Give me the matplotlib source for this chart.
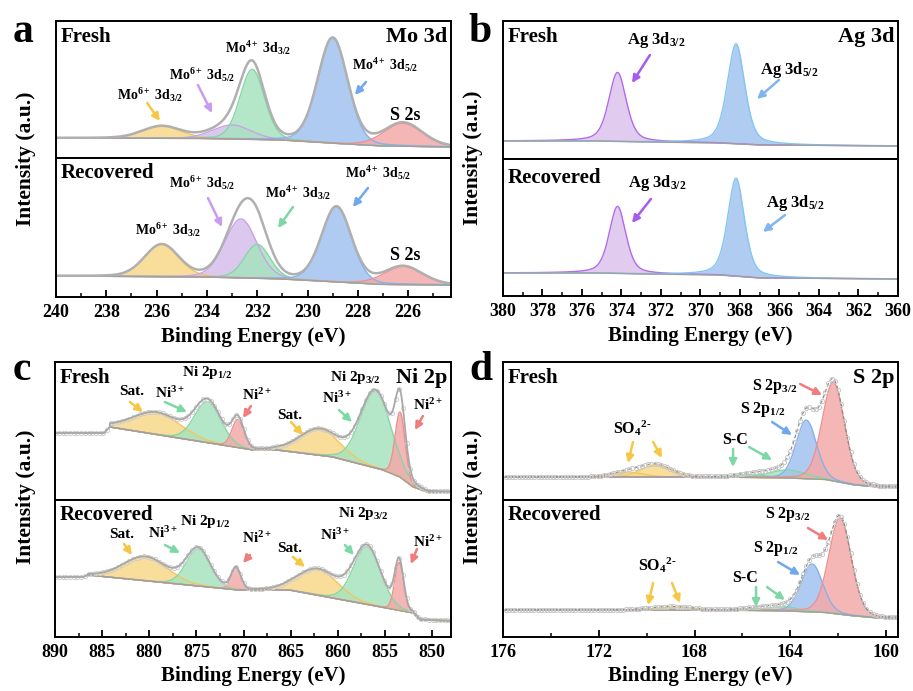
import numpy as np
import matplotlib
matplotlib.use('Agg')
import matplotlib.pyplot as plt
from matplotlib.ticker import MultipleLocator

plt.rcParams['font.family'] = ['Liberation Serif', 'DejaVu Serif']
plt.rcParams['font.weight'] = 'bold'
plt.rcParams['axes.labelweight'] = 'bold'
plt.rcParams['mathtext.fontset'] = 'custom'
plt.rcParams['mathtext.rm'] = 'Liberation Serif:bold'
plt.rcParams['mathtext.it'] = 'Liberation Serif:bold'
plt.rcParams['mathtext.bf'] = 'Liberation Serif:bold'

# ---------------- data (peak centre eV, height, FWHM eV; background nodes) ----------------
# Mo 3d
mo_fresh_center = [235.8, 233.0, 232.2, 229.0, 226.2]
mo_fresh_height = [12, 14, 70, 105, 23]
mo_fresh_fwhm = [1.8, 1.8, 1.15, 1.4, 1.8]
mo_rec_center = [235.8, 232.65, 232.0, 228.85, 226.2]
mo_rec_height = [32, 59, 34, 75, 18]
mo_rec_fwhm = [1.6, 1.5, 1.2, 1.4, 1.8]
mo_bg_energy = [240, 234, 231, 228.5, 227, 224.3]
mo_fresh_bg = [20, 19.5, 18, 14, 12, 11]
mo_rec_bg = [21, 20, 18, 14.5, 12.5, 12]

# Ag 3d
ag_fresh_center = [374.2, 368.2]
ag_fresh_height = [69, 100]
ag_fresh_fwhm = [1.05, 1.05]
ag_rec_center = [374.2, 368.2]
ag_rec_height = [67, 98]
ag_rec_fwhm = [1.0, 1.0]
ag_bg_energy = [380, 375, 373, 369, 367, 360]
ag_fresh_bg = [18, 18, 17, 16, 14, 13]
ag_rec_bg = [23, 23, 22, 21, 18, 17]

# Ni 2p
ni_fresh_center = [879.2, 873.8, 870.6, 861.9, 856.0, 853.4]
ni_fresh_height = [22, 41, 28, 26, 77, 65]
ni_fresh_fwhm = [6.0, 3.3, 1.5, 5.0, 3.8, 1.25]
ni_fresh_bg_energy = [890, 884.8, 884.2, 869.0, 866.4, 860.5, 855.2, 853.4, 852.0, 850.5, 848]
ni_fresh_bg = [67, 67, 73, 50, 50, 43, 30, 23, 13, 8, 8]
ni_fresh_start = 884.2
ni_rec_center = [880.4, 874.8, 870.8, 862.1, 856.9, 853.5]
ni_rec_height = [24, 37, 22, 26, 58, 48]
ni_rec_fwhm = [5.5, 3.0, 1.2, 5.0, 3.4, 1.1]
ni_rec_bg_energy = [890, 887, 886.5, 870.6, 865.1, 852.0, 851.3, 848]
ni_rec_bg = [60, 60, 62, 47, 47, 24, 17, 16]
ni_rec_start = 886.5

# S 2p
s_fresh_center = [170.8, 169.6, 165.6, 164.1, 163.33, 162.2]
s_fresh_height = [5, 12, 3, 8, 58.5, 98.5]
s_fresh_fwhm = [1.5, 1.5, 1.5, 1.8, 1.0, 1.1]
s_rec_center = [169.8, 168.8, 165.5, 164.3, 163.09, 161.92]
s_rec_height = [1, 3, 2, 4, 48, 96]
s_rec_fwhm = [1.5, 1.8, 1.5, 1.6, 1.05, 1.1]
s_bg_energy = [176, 167, 164, 162.5, 161.3, 160.3, 159.5]
s_fresh_bg = [23, 23, 22, 20.5, 15, 13, 13]
s_rec_bg = [27, 27, 26, 24.5, 21, 19, 19]

# ---------------- styles ----------------
FILL = {'y': '#F8D98A', 'p': '#D6BEEB', 'g': '#A6E3BE', 'b': '#A3C2EF', 'r': '#F4A9A9',
        'pb': '#DCC3EE', 'bb': '#A3C3EF'}
EDGE = {'y': '#F0C860', 'p': '#C9A4E8', 'g': '#84D8A6', 'b': '#88B0EC', 'r': '#EF9090',
        'pb': '#B26AEB', 'bb': '#82C6F3'}
ARROW = {'y': '#F6C744', 'p': '#C99CF0', 'g': '#7DD8A5', 'b': '#6FA8EE', 'r': '#F07C7C',
         'pb': '#A75CF0', 'bb': '#80B4F2'}
SO4 = 'SO$_4$$^{2\u2010}$'

W, H = 913, 691
fig = plt.figure(figsize=(W / 100, H / 100), dpi=100)


def make_ax(x0, y0, x1, y1, xlim):
    ax = fig.add_axes([x0 / W, 1 - y1 / H, (x1 - x0) / W, (y1 - y0) / H])
    ax.set_xlim(*xlim)
    ax.set_ylim(0, y1 - y0)
    ax.set_yticks([])
    for s in ax.spines.values():
        s.set_linewidth(1.4)
    return ax


def pv(x, c, h, w, eta):
    g = np.exp(-4 * np.log(2) * ((x - c) / w) ** 2)
    l = 1 / (1 + 4 * ((x - c) / w) ** 2)
    return h * ((1 - eta) * g + eta * l)


def draw(ax, bg_e, bg_v, cen, hgt, fw, cols, eta, start=None):
    lo, hi = ax.get_xlim()
    x = np.linspace(hi, lo, 1500)
    bg = np.interp(x, bg_e[::-1], bg_v[::-1])
    mask = np.ones_like(x, bool) if start is None else x <= start
    total = bg.copy()
    for c, h, w, col in zip(cen, hgt, fw, cols):
        y = pv(x, c, h, w, eta) * mask
        total += y
        ax.fill_between(x, bg, bg + y, where=mask, color=FILL[col], alpha=0.85, lw=0)
        ax.plot(x[mask], (bg + y)[mask], color=EDGE[col], lw=1.0)
    ax.plot(x, bg, color='#a0a0a0', lw=1.0)
    return x, total


def lab(ax, txt, x, y, size=10):
    ax.text(x, y, txt, ha='center', va='center', fontsize=size, fontweight='bold')


def arr(ax, x0, y0, x1, y1, col):
    ax.annotate('', xy=(x1, y1), xytext=(x0, y0),
                arrowprops=dict(arrowstyle='-|>', color=ARROW[col], lw=1.8,
                                mutation_scale=11, shrinkA=0, shrinkB=0))


def corner(ax, left, right=None, y=0.885):
    ax.text(0.012, y, left, transform=ax.transAxes, ha='left', va='center', fontsize=15)
    if right:
        ax.text(0.99, y, right, transform=ax.transAxes, ha='right', va='center', fontsize=16)


def bottom_axis(ax, major, minor):
    ax.xaxis.set_major_locator(MultipleLocator(major))
    ax.xaxis.set_minor_locator(MultipleLocator(minor))
    ax.tick_params(axis='x', which='both', direction='in', labelsize=13, pad=5)
    ax.tick_params(axis='x', which='major', length=5, width=1.3)
    ax.tick_params(axis='x', which='minor', length=3, width=1.1)
    ax.set_xlabel('Binding Energy (eV)', fontsize=15, labelpad=4)


def top_axis(ax):
    ax.set_xticks([])


# ---------------- panel a: Mo 3d ----------------
mo_cols = ['y', 'p', 'g', 'b', 'r']
a1 = make_ax(56, 21, 451, 158, (240, 224.3))
top_axis(a1)
x, tot = draw(a1, mo_bg_energy, mo_fresh_bg, mo_fresh_center, mo_fresh_height, mo_fresh_fwhm, mo_cols, 0.15)
a1.plot(x, tot, color='#b0b0b0', lw=1.8)
corner(a1, 'Fresh', 'Mo 3d')
lab(a1, 'Mo$^{6+}$ 3d$_{3/2}$', 236.26, 63)
arr(a1, 236.38, 55, 235.87, 37, 'y')
lab(a1, 'Mo$^{6+}$ 3d$_{5/2}$', 234.2, 83)
arr(a1, 234.36, 73, 233.8, 45, 'p')
lab(a1, 'Mo$^{4+}$ 3d$_{3/2}$', 231.97, 110)
lab(a1, 'Mo$^{4+}$ 3d$_{5/2}$', 226.92, 93)
arr(a1, 227.68, 76, 228.12, 63, 'b')
lab(a1, 'S 2s', 226.13, 43, 13)

a2 = make_ax(56, 158, 451, 297, (240, 224.3))
bottom_axis(a2, 2, 1)
x, tot = draw(a2, mo_bg_energy, mo_rec_bg, mo_rec_center, mo_rec_height, mo_rec_fwhm, mo_cols, 0.15)
a2.plot(x, tot, color='#b0b0b0', lw=1.8)
corner(a2, 'Recovered', y=0.89)
lab(a2, 'Mo$^{6+}$ 3d$_{5/2}$', 234.2, 114)
arr(a2, 233.96, 99, 233.4, 70, 'p')
lab(a2, 'Mo$^{4+}$ 3d$_{3/2}$', 230.38, 104)
arr(a2, 230.58, 90, 231.18, 69, 'g')
lab(a2, 'Mo$^{4+}$ 3d$_{5/2}$', 227.2, 124)
arr(a2, 227.6, 109, 228.2, 90, 'b')
lab(a2, 'Mo$^{6+}$ 3d$_{3/2}$', 235.55, 67)
lab(a2, 'S 2s', 226.13, 42, 13)

# ---------------- panel b: Ag 3d ----------------
ag_cols = ['pb', 'bb']
b1 = make_ax(503, 21, 898, 159, (380, 360))
top_axis(b1)
x, tot = draw(b1, ag_bg_energy, ag_fresh_bg, ag_fresh_center, ag_fresh_height, ag_fresh_fwhm, ag_cols, 0.45)
corner(b1, 'Fresh', 'Ag 3d')
lab(b1, 'Ag 3d$_{3/2}$', 372.25, 119, 12)
arr(b1, 372.56, 104, 373.47, 76, 'pb')
lab(b1, 'Ag 3d$_{5/2}$', 365.52, 89, 12)
arr(b1, 366.03, 79, 367.14, 60, 'bb')

b2 = make_ax(503, 159, 898, 296, (380, 360))
bottom_axis(b2, 2, 1)
x, tot = draw(b2, ag_bg_energy, ag_rec_bg, ag_rec_center, ag_rec_height, ag_rec_fwhm, ag_cols, 0.45)
corner(b2, 'Recovered', y=0.86)
lab(b2, 'Ag 3d$_{3/2}$', 372.2, 113, 12)
arr(b2, 372.51, 97, 373.47, 73, 'pb')
lab(b2, 'Ag 3d$_{5/2}$', 365.22, 93, 12)
arr(b2, 365.72, 81, 366.84, 64, 'bb')

# ---------------- panel c: Ni 2p ----------------
ni_cols = ['y', 'g', 'r', 'y', 'g', 'r']
c1 = make_ax(55, 362, 451, 500, (890, 848))
top_axis(c1)
x, tot = draw(c1, ni_fresh_bg_energy, ni_fresh_bg, ni_fresh_center, ni_fresh_height, ni_fresh_fwhm,
              ni_cols, 0.1, ni_fresh_start)
c1.plot(x[::14], tot[::14], 'o', ms=3, mfc='none', mec='#cfcfcf', mew=0.7)
c1.plot(x, tot, color='#a8a8a8', lw=1.3)
corner(c1, 'Fresh', 'Ni 2p')
lab(c1, 'Sat.', 881.83, 108, 11)
arr(c1, 882.05, 98, 880.67, 88, 'y')
lab(c1, 'Ni$^{3+}$', 877.8, 107, 11)
arr(c1, 878.34, 98, 876.0, 88, 'g')
lab(c1, 'Ni 2p$_{1/2}$', 873.88, 127, 11)
lab(c1, 'Ni$^{2+}$', 868.58, 105, 11)
arr(c1, 869.22, 94, 870.06, 82, 'r')
lab(c1, 'Sat.', 865.08, 84, 11)
arr(c1, 864.97, 78, 863.7, 65, 'y')
lab(c1, 'Ni$^{3+}$', 860.1, 102, 11)
arr(c1, 859.88, 90, 858.5, 78, 'g')
lab(c1, 'Ni 2p$_{3/2}$', 858.19, 122, 11)
lab(c1, 'Ni$^{2+}$', 850.45, 95, 11)
arr(c1, 850.98, 84, 851.82, 70, 'r')

c2 = make_ax(55, 500, 451, 637, (890, 848))
bottom_axis(c2, 5, 2.5)
x, tot = draw(c2, ni_rec_bg_energy, ni_rec_bg, ni_rec_center, ni_rec_height, ni_rec_fwhm,
              ni_cols, 0.1, ni_rec_start)
c2.plot(x[::14], tot[::14], 'o', ms=3, mfc='none', mec='#cfcfcf', mew=0.7)
c2.plot(x, tot, color='#a8a8a8', lw=1.3)
corner(c2, 'Recovered', y=0.89)
lab(c2, 'Sat.', 882.9, 102, 11)
arr(c2, 882.68, 93, 881.83, 82, 'y')
lab(c2, 'Ni$^{3+}$', 878.55, 104, 11)
arr(c2, 878.34, 92, 876.74, 84, 'g')
lab(c2, 'Ni 2p$_{1/2}$', 874.09, 116, 11)
lab(c2, 'Ni$^{2+}$', 868.58, 99, 11)
arr(c2, 869.32, 82, 870.06, 74, 'r')
lab(c2, 'Sat.', 865.08, 89, 11)
arr(c2, 864.76, 80, 863.49, 70, 'y')
lab(c2, 'Ni$^{3+}$', 860.31, 102, 11)
arr(c2, 859.25, 92, 858.3, 82, 'g')
lab(c2, 'Ni 2p$_{3/2}$', 857.34, 124, 11)
lab(c2, 'Ni$^{2+}$', 850.45, 95, 11)
arr(c2, 851.61, 88, 852.25, 73, 'r')

# ---------------- panel d: S 2p ----------------
s_cols = ['y', 'y', 'g', 'g', 'b', 'r']
d1 = make_ax(503, 362, 898, 500, (176, 159.5))
top_axis(d1)
x, tot = draw(d1, s_bg_energy, s_fresh_bg, s_fresh_center, s_fresh_height, s_fresh_fwhm, s_cols, 0.15)
d1.plot(x, tot, color='#8a8a8a', lw=0.9, ls=(0, (3, 2)))
d1.plot(x[::12], tot[::12], 'o', ms=3, mfc='none', mec='#c8c8c8', mew=0.7)
corner(d1, 'Fresh', 'S 2p')
lab(d1, SO4, 170.61, 72, 11.5)
arr(d1, 170.57, 58, 170.78, 37, 'y')
arr(d1, 169.73, 58, 169.36, 42, 'y')
lab(d1, 'S-C', 166.31, 60, 11.5)
arr(d1, 166.39, 51, 166.39, 33, 'g')
arr(d1, 165.72, 53, 164.76, 40, 'g')
lab(d1, 'S 2p$_{1/2}$', 165.14, 90, 11.5)
arr(d1, 164.76, 78, 163.93, 65, 'b')
lab(d1, 'S 2p$_{3/2}$', 164.64, 113, 11.5)
arr(d1, 163.59, 116, 162.67, 105, 'r')

d2 = make_ax(503, 500, 898, 637, (176, 159.5))
bottom_axis(d2, 4, 2)
x, tot = draw(d2, s_bg_energy, s_rec_bg, s_rec_center, s_rec_height, s_rec_fwhm, s_cols, 0.15)
d2.plot(x, tot, color='#8a8a8a', lw=0.9, ls=(0, (3, 2)))
d2.plot(x[::12], tot[::12], 'o', ms=3, mfc='none', mec='#c8c8c8', mew=0.7)
corner(d2, 'Recovered', y=0.89)
lab(d2, SO4, 169.57, 72, 11.5)
arr(d2, 169.73, 54, 169.94, 32, 'y')
arr(d2, 168.94, 54, 168.61, 34, 'y')
lab(d2, 'S-C', 165.89, 59, 11.5)
arr(d2, 165.43, 50, 165.43, 30, 'g')
arr(d2, 164.97, 50, 164.22, 37, 'g')
lab(d2, 'S 2p$_{1/2}$', 164.6, 88, 11.5)
arr(d2, 164.51, 75, 163.59, 62, 'b')
lab(d2, 'S 2p$_{3/2}$', 164.1, 122, 11.5)
arr(d2, 163.26, 109, 162.42, 97, 'r')

# ---------------- shared labels ----------------
for px, py in [(26, 159), (473, 158), (26, 497), (473, 497)]:
    fig.text(px / W, 1 - py / H, 'Intensity (a.u.)', rotation=90, ha='center', va='center', fontsize=15.5)
for letter, px, py in [('a', 23, 42), ('b', 480, 42), ('c', 22, 380), ('d', 481, 380)]:
    fig.text(px / W, 1 - py / H, letter, ha='center', va='baseline', fontsize=30)

fig.savefig('out.png', dpi=100)
